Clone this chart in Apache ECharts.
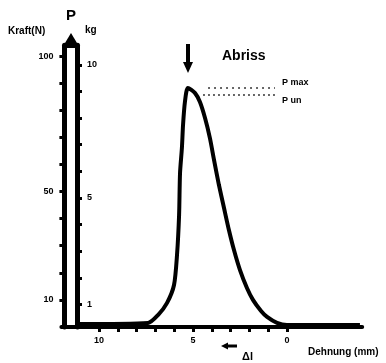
<!DOCTYPE html>
<html>
<head>
<meta charset="utf-8">
<script src="https://cdn.jsdelivr.net/npm/echarts@6/dist/echarts.min.js"></script>
<style>
  html, body { margin: 0; padding: 0; background: #fff; }
  #chart { width: 386px; height: 363px; }
</style>
</head>
<body>
<div id="chart"></div>
<script>
// Elongation (mm) and force (N) along the tensile curve; the axis runs right-to-left
const strainMm = [11.12, 7.39, 6.85, 6.38, 6.01, 5.85, 5.74, 5.69, 5.59, 5.53, 5.43, 5.27, 4.89, 4.63, 4.36, 4.10, 3.88, 3.62, 3.35, 3.09, 2.82, 2.50, 2.13, 1.81, 1.38, 1.06, 0.53, 0, -3.88];
const forceN   = [1.1, 1.5, 4.5, 8.9, 15.5, 26.6, 41.3, 56.8, 66.1, 74.5, 83.0, 88.2, 86.3, 83.0, 77.1, 69.7, 61.6, 52.4, 43.9, 35.8, 28.4, 21.0, 14.4, 10.0, 5.9, 3.7, 1.5, 0.7, 0.7];

// Reference levels: maximum force and lower force
const pMaxStrain = [4.2, 0.64];
const pMaxForce  = [88.2, 88.2];
const pUnStrain  = [4.47, 0.64];
const pUnForce   = [85.6, 85.6];

// Tick labels
const strainTicks = [0, 1, 2, 3, 4, 5, 6, 7, 8, 9, 10];
const strainLabels = [0, 5, 10];
const forceTicks = [10, 20, 30, 40, 50, 60, 70, 80, 90, 100];
const forceLabels = [10, 50, 100];
const kgTicks = [1, 2, 3, 4, 5, 6, 7, 8, 9, 10];
const kgLabels = [1, 5, 10];

const FONT = 'Liberation Sans';
const INK = '#000';

const chart = echarts.init(document.getElementById('chart'), null, { renderer: 'canvas' });

const boldLabel = { color: INK, fontFamily: FONT, fontWeight: 'bold', fontSize: 9 };

chart.setOption({
  animation: false,
  backgroundColor: '#fff',
  grid: { left: 61.4, right: 23.8, top: 45.2, bottom: 36 },
  xAxis: {
    type: 'value',
    inverse: true,
    min: -4,
    max: 12,
    splitLine: { show: false },
    axisLine: { show: true, onZero: false, lineStyle: { color: INK, width: 4 } },
    axisTick: { show: true, length: 5, lineStyle: { color: INK, width: 3 }, customValues: strainTicks },
    axisLabel: Object.assign({ margin: 9, customValues: strainLabels }, boldLabel)
  },
  yAxis: [
    {
      type: 'value',
      min: 0,
      max: 104,
      offset: -3,
      splitLine: { show: false },
      axisLine: { show: true, onZero: false, lineStyle: { color: INK, width: 5 } },
      axisTick: { show: true, length: 5, lineStyle: { color: INK, width: 3 }, customValues: forceTicks },
      axisLabel: Object.assign({ margin: 11, customValues: forceLabels }, boldLabel)
    },
    {
      type: 'value',
      min: 0.15,
      max: 10.74,
      position: 'left',
      offset: -15.6,
      splitLine: { show: false },
      axisLine: { show: true, onZero: false, lineStyle: { color: INK, width: 5 } },
      axisTick: { show: true, inside: true, length: 5, lineStyle: { color: INK, width: 3 }, customValues: kgTicks },
      axisLabel: Object.assign({ inside: true, margin: 10, customValues: kgLabels }, boldLabel)
    }
  ],
  series: [
    {
      type: 'line',
      data: strainMm.map((x, i) => [x, forceN[i]]),
      smooth: 0.25,
      showSymbol: false,
      lineStyle: { color: INK, width: 4 },
      z: 3
    },
    {
      type: 'line',
      data: pMaxStrain.map((x, i) => [x, pMaxForce[i]]),
      showSymbol: false,
      lineStyle: { color: '#333', width: 1.5, type: [2, 4] }
    },
    {
      type: 'line',
      data: pUnStrain.map((x, i) => [x, pUnForce[i]]),
      showSymbol: false,
      lineStyle: { color: '#333', width: 1.5, type: [2, 3] }
    }
  ],
  graphic: [
    // arrow head capping the double force axis
    { type: 'polygon', shape: { points: [[62, 48], [80, 48], [71, 33]] }, style: { fill: INK } },
    { type: 'text', x: 71, y: 16, style: { text: 'P', fill: INK, font: 'bold 15px ' + FONT, textAlign: 'center', textVerticalAlign: 'middle' } },
    { type: 'text', x: 8, y: 31, style: { text: 'Kraft(N)', fill: INK, font: 'bold 10px ' + FONT, textAlign: 'left', textVerticalAlign: 'middle' } },
    { type: 'text', x: 85, y: 30, style: { text: 'kg', fill: INK, font: 'bold 10px ' + FONT, textAlign: 'left', textVerticalAlign: 'middle' } },
    // break marker
    { type: 'line', shape: { x1: 188, y1: 44, x2: 188, y2: 64 }, style: { stroke: INK, lineWidth: 4 } },
    { type: 'polygon', shape: { points: [[183, 62], [193, 62], [188, 73]] }, style: { fill: INK } },
    { type: 'text', x: 222, y: 56, style: { text: 'Abriss', fill: INK, font: 'bold 14px ' + FONT, textAlign: 'left', textVerticalAlign: 'middle' } },
    { type: 'text', x: 282, y: 83, style: { text: 'P max', fill: INK, font: 'bold 9px ' + FONT, textAlign: 'left', textVerticalAlign: 'middle' } },
    { type: 'text', x: 282, y: 101, style: { text: 'P un', fill: INK, font: 'bold 9px ' + FONT, textAlign: 'left', textVerticalAlign: 'middle' } },
    // direction of elongation
    { type: 'line', shape: { x1: 226, y1: 346, x2: 237, y2: 346 }, style: { stroke: INK, lineWidth: 3 } },
    { type: 'polygon', shape: { points: [[221, 346], [228, 342.5], [228, 349.5]] }, style: { fill: INK } },
    { type: 'text', x: 242, y: 357, style: { text: 'Δl', fill: INK, font: 'bold 11px ' + FONT, textAlign: 'left', textVerticalAlign: 'middle' } },
    { type: 'text', x: 308, y: 352, style: { text: 'Dehnung (mm)', fill: INK, font: 'bold 10px ' + FONT, textAlign: 'left', textVerticalAlign: 'middle' } }
  ]
});
</script>
</body>
</html>
